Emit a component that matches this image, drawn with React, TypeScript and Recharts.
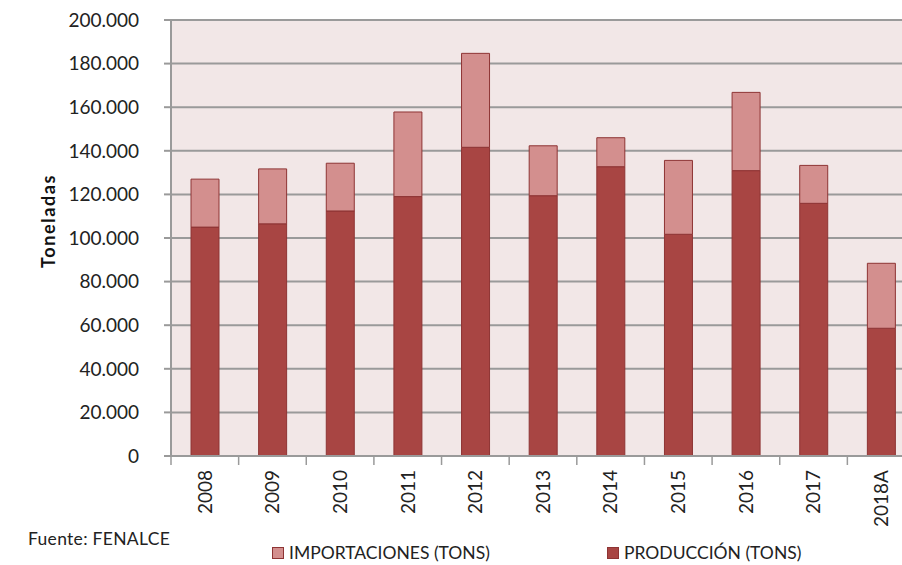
import React from "react";
import { BarChart, Bar, XAxis, YAxis, CartesianGrid } from "recharts";

const years = ["2008", "2009", "2010", "2011", "2012", "2013", "2014", "2015", "2016", "2017", "2018A"];
const produccion = [105000, 106500, 112400, 119000, 141600, 119400, 132700, 101700, 130900, 115900, 58600];
const importaciones = [22000, 25200, 21900, 38800, 43100, 22900, 13300, 33900, 35900, 17400, 29800];
const yTicks = [0, 20000, 40000, 60000, 80000, 100000, 120000, 140000, 160000, 180000, 200000];

const COLOR_PROD = "#a84543";
const COLOR_IMP = "#d38f8e";
const BAR_STROKE = "#8e3434";
const GRID = "#9a9a9a";
const FONT = "Lato, 'Open Sans', sans-serif";

const CHART_W = 915;
const CHART_H = 565;
const Y_AXIS_W = 171;
const MARGIN_TOP = 20;
const X_AXIS_H = 109;
const CAT_W = (CHART_W - Y_AXIS_W) / years.length;

const data = years.map((year, i) => ({
  year,
  produccion: produccion[i],
  importaciones: importaciones[i],
}));

const fmt = (v: number) => v.toString().replace(/\B(?=(\d{3})+(?!\d))/g, ".");

function YearTick(props: any) {
  const { x, y, payload } = props;
  const left = x - CAT_W / 2;
  return (
    <g>
      <line x1={left} y1={y - 8} x2={left} y2={y + 1} stroke={GRID} strokeWidth={1.5} />
      <text
        x={x}
        y={y + 6}
        transform={`rotate(-90, ${x}, ${y + 6})`}
        textAnchor="end"
        dy="0.36em"
        fill="#222"
        fontSize={19}
        fontFamily={FONT}
      >
        {payload.value}
      </text>
    </g>
  );
}

export default function App() {
  return (
    <div
      style={{
        position: "absolute",
        left: 0,
        top: 0,
        width: 902,
        height: 565,
        overflow: "hidden",
        background: "#fff",
        fontFamily: FONT,
      }}
    >
      <BarChart
        width={CHART_W}
        height={CHART_H}
        data={data}
        margin={{ top: MARGIN_TOP, right: 0, left: 0, bottom: 0 }}
        barSize={28}
      >
        <CartesianGrid vertical={false} stroke={GRID} strokeWidth={2} fill="#f2e7e7" />
        <XAxis
          dataKey="year"
          height={X_AXIS_H}
          axisLine={{ stroke: GRID, strokeWidth: 2 }}
          tickLine={false}
          tick={<YearTick />}
          interval={0}
        />
        <YAxis
          width={Y_AXIS_W}
          domain={[0, 200000]}
          ticks={yTicks}
          tickFormatter={fmt}
          axisLine={{ stroke: GRID, strokeWidth: 2 }}
          tickLine={{ stroke: GRID, strokeWidth: 2 }}
          tickSize={7}
          tickMargin={25}
          tick={{ fill: "#222", fontSize: 19, fontFamily: FONT }}
          interval={0}
        />
        <Bar
          dataKey="produccion"
          stackId="a"
          fill={COLOR_PROD}
          stroke={BAR_STROKE}
          strokeWidth={1}
          isAnimationActive={false}
        />
        <Bar
          dataKey="importaciones"
          stackId="a"
          fill={COLOR_IMP}
          stroke={BAR_STROKE}
          strokeWidth={1}
          isAnimationActive={false}
        />
      </BarChart>

      <div
        style={{
          position: "absolute",
          left: 48,
          top: 221,
          transform: "translate(-50%, -50%) rotate(-90deg)",
          fontWeight: 700,
          fontSize: 18,
          letterSpacing: 1.6,
          color: "#111",
          whiteSpace: "nowrap",
        }}
      >
        Toneladas
      </div>

      <div
        style={{ position: "absolute", left: 28, top: 528, fontSize: 17.5, letterSpacing: 0.3, color: "#222", whiteSpace: "nowrap" }}
      >
        Fuente: FENALCE
      </div>

      <div style={{ position: "absolute", left: 272, top: 542, display: "flex", alignItems: "center", fontSize: 17.5, color: "#222", whiteSpace: "nowrap" }}>
        <span style={{ display: "inline-block", width: 10, height: 10, background: COLOR_IMP, border: `1px solid ${BAR_STROKE}`, marginRight: 5 }} />
        IMPORTACIONES (TONS)
      </div>
      <div style={{ position: "absolute", left: 607, top: 542, display: "flex", alignItems: "center", fontSize: 17.5, color: "#222", whiteSpace: "nowrap" }}>
        <span style={{ display: "inline-block", width: 10, height: 10, background: COLOR_PROD, border: `1px solid ${BAR_STROKE}`, marginRight: 5 }} />
        PRODUCCIÓN (TONS)
      </div>
    </div>
  );
}
